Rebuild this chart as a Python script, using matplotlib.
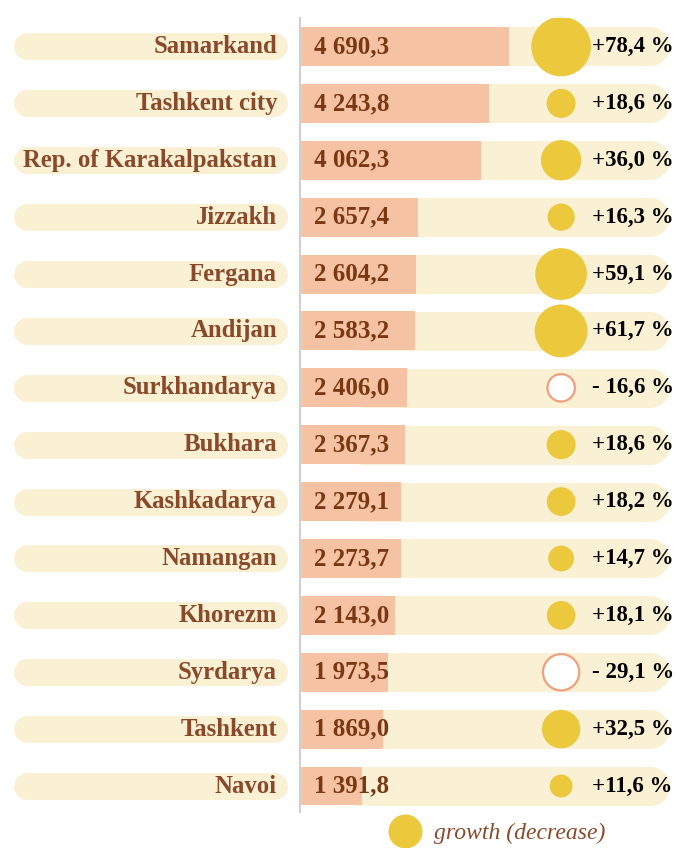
import matplotlib
matplotlib.use("Agg")
import matplotlib.pyplot as plt
from matplotlib.lines import Line2D
import numpy as np

# ---- data ----
regions = ["Samarkand", "Tashkent city", "Rep. of Karakalpakstan", "Jizzakh",
           "Fergana", "Andijan", "Surkhandarya", "Bukhara", "Kashkadarya",
           "Namangan", "Khorezm", "Syrdarya", "Tashkent", "Navoi"]
values = [4690.3, 4243.8, 4062.3, 2657.4, 2604.2, 2583.2, 2406.0,
          2367.3, 2279.1, 2273.7, 2143.0, 1973.5, 1869.0, 1391.8]
growth = [78.4, 18.6, 36.0, 16.3, 59.1, 61.7, -16.6,
          18.6, 18.2, 14.7, 18.1, -29.1, 32.5, 11.6]
legend_label = "growth (decrease)"

# ---- style ----
CREAM = "#FAF0D4"
SALMON = "#F5C3A3"
GOLD = "#EBC83C"
NEG_EDGE = "#F1A07C"
LABEL_BROWN = "#8A4A2A"
VALUE_BROWN = "#7A3812"
AXIS_GRAY = "#D0D0D0"
SERIF = ["Liberation Serif", "DejaVu Serif"]

W, H, DPI = 682, 848, 100
fig = plt.figure(figsize=(W / DPI, H / DPI), dpi=DPI)

def px_w(p):
    return p / W

def px_h(p):
    return p / H

n = len(regions)
idx = np.arange(n)
ytop, ybot = -0.501, n - 1 + 0.457
axes_top_px, axes_bot_px = 18, 812
bottom = (H - axes_bot_px) / H
height = (axes_bot_px - axes_top_px) / H

# ---- right panel: bars, circles, percentages ----
ax = fig.add_axes([px_w(300), bottom, px_w(W - 300), height])
XMAX = 8580
ax.set_xlim(0, XMAX)
ax.set_ylim(ybot, ytop)
units_per_px = XMAX / (W - 300)

track_start, track_end = 966, 8292          # rounded background track
track_lw_px = 39
cap = track_lw_px / 2 * units_per_px
for i in idx:
    ax.plot([track_start + cap, track_end - cap], [i, i], color=CREAM,
            lw=track_lw_px * 72 / DPI, solid_capstyle="round", zorder=1)

ax.barh(idx, values, height=0.685, color=SALMON, zorder=2)

for i, v in zip(idx, values):
    txt = f"{v:,.1f}".replace(",", " ").replace(".", ",")
    ax.annotate(txt, xy=(0, i), xytext=(10, 0), textcoords="offset points",
                ha="left", va="center", fontsize=18, fontweight="bold",
                family=SERIF, color=VALUE_BROWN, zorder=4)

circle_x = 5865
g = np.array(growth)
sizes = 23.5 * np.abs(g)
pos = g >= 0
ax.scatter(np.full(pos.sum(), circle_x), idx[pos], s=sizes[pos], color=GOLD,
           edgecolors="none", zorder=3)
ax.scatter(np.full((~pos).sum(), circle_x), idx[~pos], s=sizes[~pos],
           facecolor="white", edgecolors=NEG_EDGE, linewidths=1.6, zorder=3)

text_x = 6562
for i, gv in zip(idx, growth):
    if gv >= 0:
        s = "+" + f"{gv:.1f}".replace(".", ",") + " %"
    else:
        s = "- " + f"{abs(gv):.1f}".replace(".", ",") + " %"
    ax.text(text_x, i, s, ha="left", va="center", fontsize=16.5,
            fontweight="bold", family=SERIF, color="black", zorder=4)

for sp in ["top", "right", "bottom"]:
    ax.spines[sp].set_visible(False)
ax.spines["left"].set_color(AXIS_GRAY)
ax.spines["left"].set_linewidth(1.5)
ax.set_xticks([])
ax.set_yticks([])
ax.patch.set_alpha(0)

# ---- left panel: region name pills ----
axl = fig.add_axes([0, bottom, px_w(300), height])
axl.set_xlim(0, 300)
axl.set_ylim(ybot, ytop)
axl.axis("off")
pill_lw_px = 27
for i, name in zip(idx, regions):
    axl.plot([13 + pill_lw_px / 2, 287 - pill_lw_px / 2], [i, i], color=CREAM,
             lw=pill_lw_px * 72 / DPI, solid_capstyle="round", zorder=1)
    axl.text(277, i, name, ha="right", va="center", fontsize=17.8,
             fontweight="bold", family=SERIF, color=LABEL_BROWN, zorder=2)

# ---- legend ----
handle = Line2D([], [], marker="o", ls="", markersize=34 * 72 / DPI,
                markerfacecolor=GOLD, markeredgecolor="none")
fig.legend([handle], [legend_label], loc="center left",
           bbox_to_anchor=(px_w(377), 1 - px_h(833)), frameon=False,
           handletextpad=0.5, borderpad=0, handlelength=1.4,
           prop={"family": SERIF, "style": "italic", "size": 17},
           labelcolor=LABEL_BROWN)

fig.savefig("out.png", dpi=DPI)
